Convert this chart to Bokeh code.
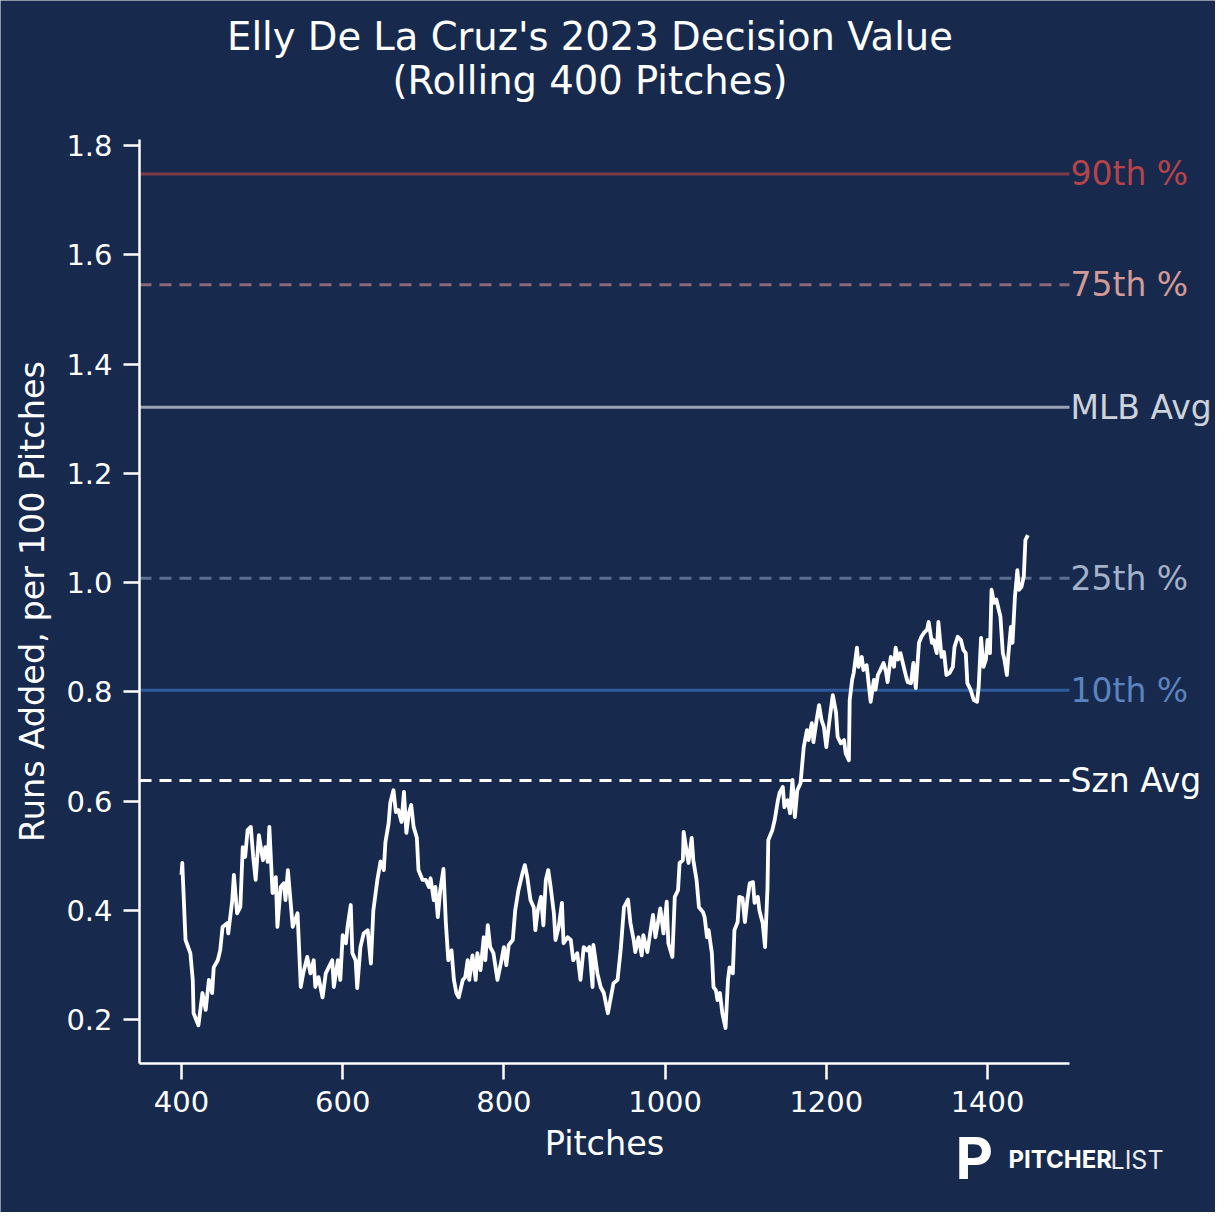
from bokeh.plotting import figure
from bokeh.models import Label, FixedTicker
from bokeh.embed import file_html
from bokeh.resources import INLINE

# ---------------- data ----------------
pitches = [
    400, 401, 402, 405, 411, 414, 415, 421, 426, 430,
    434, 438, 440, 445, 448, 451, 457, 458, 463, 465,
    469, 473, 476, 479, 482, 486, 489, 492, 496, 501,
    504, 507, 509, 513, 517, 519, 523, 527, 529, 532,
    538, 544, 548, 551, 556, 560, 564, 566, 570, 575,
    579, 582, 587, 589, 594, 597, 600, 604, 606, 610,
    612, 616, 618, 622, 626, 631, 635, 638, 643, 647,
    651, 653, 657, 659, 663, 666, 669, 673, 676, 679,
    682, 685, 688, 692, 694, 699, 703, 707, 709, 713,
    715, 718, 721, 725, 728, 731, 735, 738, 741, 744,
    749, 752, 755, 757, 761, 765, 767, 771, 775, 777,
    780, 783, 787, 792, 797, 800, 803, 806, 811, 814,
    818, 823, 826, 829, 833, 837, 839, 842, 846, 849,
    852, 855, 858, 862, 864, 868, 872, 874, 879, 883,
    886, 891, 895, 899, 903, 906, 910, 911, 916, 920,
    924, 929, 932, 936, 941, 945, 949, 954, 957, 961,
    963, 967, 971, 973, 978, 982, 985, 988, 991, 994,
    998, 1002, 1004, 1009, 1012, 1016, 1018, 1022, 1023, 1027,
    1029, 1033, 1035, 1039, 1042, 1047, 1049, 1052, 1054, 1058,
    1060, 1063, 1065, 1068, 1071, 1075, 1078, 1080, 1084, 1086,
    1090, 1092, 1096, 1099, 1102, 1105, 1109, 1111, 1115, 1117,
    1121, 1124, 1127, 1128, 1133, 1136, 1140, 1142, 1146, 1148,
    1152, 1155, 1158, 1161, 1164, 1168, 1172, 1176, 1178, 1182,
    1184, 1188, 1191, 1194, 1197, 1200, 1204, 1208, 1212, 1214,
    1218, 1222, 1224, 1228, 1229, 1232, 1234, 1238, 1240, 1244,
    1246, 1250, 1253, 1255, 1259, 1261, 1264, 1267, 1271, 1274,
    1276, 1280, 1284, 1286, 1289, 1292, 1296, 1299, 1301, 1305,
    1308, 1311, 1315, 1318, 1321, 1325, 1327, 1331, 1333, 1337,
    1339, 1343, 1346, 1349, 1353, 1357, 1359, 1363, 1367, 1370,
    1373, 1375, 1379, 1383, 1387, 1389, 1392, 1395, 1398, 1400,
    1403, 1405, 1408, 1411, 1414, 1416, 1419, 1421, 1424, 1426,
    1429, 1431, 1434, 1437, 1439, 1442, 1445, 1447, 1450,
]

runs_added = [
    0.465, 0.487, 0.45, 0.346, 0.322, 0.273, 0.212, 0.19, 0.249, 0.218,
    0.273, 0.249, 0.296, 0.309, 0.327, 0.37, 0.377, 0.358, 0.419, 0.465,
    0.395, 0.406, 0.516, 0.498, 0.547, 0.553, 0.498, 0.456, 0.538, 0.492,
    0.516, 0.489, 0.553, 0.432, 0.461, 0.37, 0.443, 0.45, 0.419, 0.474,
    0.37, 0.395, 0.26, 0.285, 0.315, 0.285, 0.309, 0.26, 0.278, 0.241,
    0.285, 0.294, 0.309, 0.26, 0.309, 0.273, 0.355, 0.34, 0.37, 0.41,
    0.322, 0.309, 0.258, 0.333, 0.358, 0.364, 0.303, 0.4, 0.456, 0.49,
    0.474, 0.525, 0.56, 0.597, 0.62, 0.58, 0.584, 0.562, 0.617, 0.542,
    0.578, 0.593, 0.553, 0.533, 0.474, 0.456, 0.456, 0.443, 0.459, 0.419,
    0.443, 0.388, 0.437, 0.476, 0.377, 0.309, 0.327, 0.273, 0.249, 0.241,
    0.273, 0.278, 0.309, 0.273, 0.318, 0.273, 0.322, 0.291, 0.351, 0.309,
    0.373, 0.333, 0.322, 0.273, 0.309, 0.333, 0.3, 0.337, 0.346, 0.4,
    0.437, 0.468, 0.483, 0.461, 0.419, 0.406, 0.364, 0.4, 0.425, 0.373,
    0.456, 0.474, 0.443, 0.395, 0.346, 0.37, 0.414, 0.34, 0.351, 0.346,
    0.309, 0.322, 0.273, 0.333, 0.327, 0.333, 0.26, 0.337, 0.285, 0.26,
    0.249, 0.212, 0.236, 0.267, 0.273, 0.33, 0.406, 0.42, 0.377, 0.346,
    0.324, 0.351, 0.318, 0.355, 0.324, 0.364, 0.392, 0.351, 0.377, 0.404,
    0.358, 0.416, 0.34, 0.315, 0.425, 0.437, 0.487, 0.492, 0.544, 0.505,
    0.487, 0.533, 0.492, 0.456, 0.406, 0.397, 0.388, 0.351, 0.364, 0.322,
    0.26, 0.254, 0.236, 0.249, 0.212, 0.185, 0.273, 0.296, 0.285, 0.364,
    0.379, 0.425, 0.423, 0.379, 0.419, 0.45, 0.452, 0.414, 0.425, 0.4,
    0.377, 0.333, 0.441, 0.529, 0.547, 0.566, 0.602, 0.615, 0.626, 0.589,
    0.602, 0.578, 0.639, 0.571, 0.62, 0.633, 0.699, 0.73, 0.712, 0.743,
    0.708, 0.749, 0.776, 0.749, 0.736, 0.699, 0.749, 0.794, 0.763, 0.718,
    0.706, 0.712, 0.688, 0.675, 0.785, 0.822, 0.835, 0.881, 0.846, 0.864,
    0.84, 0.849, 0.809, 0.782, 0.822, 0.804, 0.831, 0.84, 0.853, 0.837,
    0.818, 0.864, 0.846, 0.881, 0.859, 0.871, 0.846, 0.828, 0.818, 0.816,
    0.853, 0.807, 0.89, 0.901, 0.908, 0.914, 0.928, 0.89, 0.895, 0.871,
    0.928, 0.864, 0.873, 0.831, 0.835, 0.846, 0.882, 0.901, 0.895, 0.877,
    0.871, 0.816, 0.804, 0.785, 0.782, 0.809, 0.899, 0.846, 0.859, 0.895,
    0.871, 0.987, 0.963, 0.969, 0.95, 0.938, 0.871, 0.859, 0.831, 0.871,
    0.919, 0.89, 0.974, 1.023, 0.987, 0.992, 1.011, 1.078, 1.087,
]
assert len(pitches) == len(runs_added)

ref_names = ["90th %", "75th %", "MLB Avg", "25th %", "10th %", "Szn Avg"]
ref_values = [1.748, 1.545, 1.321, 1.008, 0.803, 0.638]
ref_line_colors = ["#7b3a48", "#8a6878", "#9aa2b4", "#5c7090", "#2d5b9c", "#ffffff"]
ref_text_colors = ["#b5434a", "#d49a97", "#cdd2dc", "#a3b1c9", "#5b83be", "#ffffff"]
ref_dashes = ["solid", "12 8", "solid", "12 8", "solid", "12 8"]

x_ticks = [400, 600, 800, 1000, 1200, 1400]
x_tick_labels = ["400", "600", "800", "1000", "1200", "1400"]
y_ticks = [0.2, 0.4, 0.6, 0.8, 1.0, 1.2, 1.4, 1.6, 1.8]
y_tick_labels = ["0.2", "0.4", "0.6", "0.8", "1.0", "1.2", "1.4", "1.6", "1.8"]

title_lines = ["Elly De La Cruz's 2023 Decision Value", "(Rolling 400 Pitches)"]

# ---------------- styling / layout ----------------
BG = "#172a4e"
FONT = "DejaVu Sans"
W, H = 1215, 1212
# axes limits (the plotted area of the reference)
X0, X1 = 347.9, 1501.7
Y0, Y1 = 0.12, 1.811
# where those limits sit on the canvas (pixels)
FL, FR, FT, FB = 139, 1069, 139, 1063


def dx(px):
    return X0 + (px - FL) / (FR - FL) * (X1 - X0)


def dy(py):
    return Y1 - (py - FT) / (FB - FT) * (Y1 - Y0)


# the frame fills the whole canvas; axes are pinned at the axes limits
p = figure(width=W, height=H, x_range=(dx(0), dx(W)),
           y_range=(dy(H), dy(0)),
           output_backend="svg", toolbar_location=None,
           min_border=0, background_fill_color=BG, border_fill_color=BG,
           outline_line_color=None)
p.grid.visible = False

for ax in (p.xaxis[0], p.yaxis[0]):
    ax.axis_line_color = "white"
    ax.axis_line_width = 2.5
    ax.major_tick_line_color = "white"
    ax.major_tick_line_width = 2.5
    ax.major_tick_out = 16
    ax.major_tick_in = 0
    ax.minor_tick_line_color = None
    ax.major_label_text_font = FONT
    ax.major_label_text_font_size = "29px"
    ax.major_label_text_color = "white"
    ax.axis_label_text_font = FONT
    ax.axis_label_text_font_size = "33.5px"
    ax.axis_label_text_font_style = "normal"
    ax.axis_label_text_color = "white"
    ax.major_label_standoff = 11

p.xaxis.fixed_location = Y0
p.xaxis.bounds = (X0, X1)
p.xaxis.ticker = FixedTicker(ticks=x_ticks)
p.xaxis.major_label_overrides = dict(zip(x_ticks, x_tick_labels))
p.xaxis.axis_label = "Pitches"
p.xaxis.axis_label_standoff = 9

p.yaxis.fixed_location = X0
p.yaxis.bounds = (Y0, Y1)
p.yaxis.ticker = FixedTicker(ticks=y_ticks)
p.yaxis.major_label_overrides = dict(zip(y_ticks, y_tick_labels))
p.yaxis.axis_label = "Runs Added, per 100 Pitches"
p.yaxis.axis_label_standoff = 11

# reference lines across the axes + right-hand labels
for name, v, lc, tc, dash in zip(ref_names, ref_values, ref_line_colors,
                                  ref_text_colors, ref_dashes):
    p.segment(x0=X0, x1=X1, y0=v, y1=v, line_color=lc, line_width=3,
              line_dash=dash)
    p.add_layout(Label(x=X1, y=v, x_offset=1, text=name, text_align="left",
                       text_baseline="middle", text_font=FONT,
                       text_font_size="33px", text_color=tc))

# rolling line
p.line(pitches, runs_added, line_color="white", line_width=3.8,
       line_join="round")

# title (positions are the vertical centres of the capitals)
for line, py in zip(title_lines, [35.5, 79.5]):
    p.add_layout(Label(x=dx(589.5), y=dy(py), text=line, text_align="center",
                       text_baseline="middle", text_font=FONT,
                       text_font_size="38.5px", text_color="white"))

# logo
p.add_layout(Label(x=dx(955), y=dy(1157), text="P", text_align="left",
                   text_baseline="middle", text_font="Inter",
                   text_font_style="bold", text_font_size="58px",
                   text_color="white"))
p.add_layout(Label(x=dx(1008), y=dy(1159), text="PITCHER", text_align="left",
                   text_baseline="middle", text_font="Inter",
                   text_font_style="bold", text_font_size="24px",
                   text_color="white"))
p.add_layout(Label(x=dx(1110), y=dy(1159), text="LIST", text_align="left",
                   text_baseline="middle", text_font="Inter",
                   text_font_size="25px", text_color="#e8ebf0"))

open("out.html", "w").write(file_html(p, INLINE))
